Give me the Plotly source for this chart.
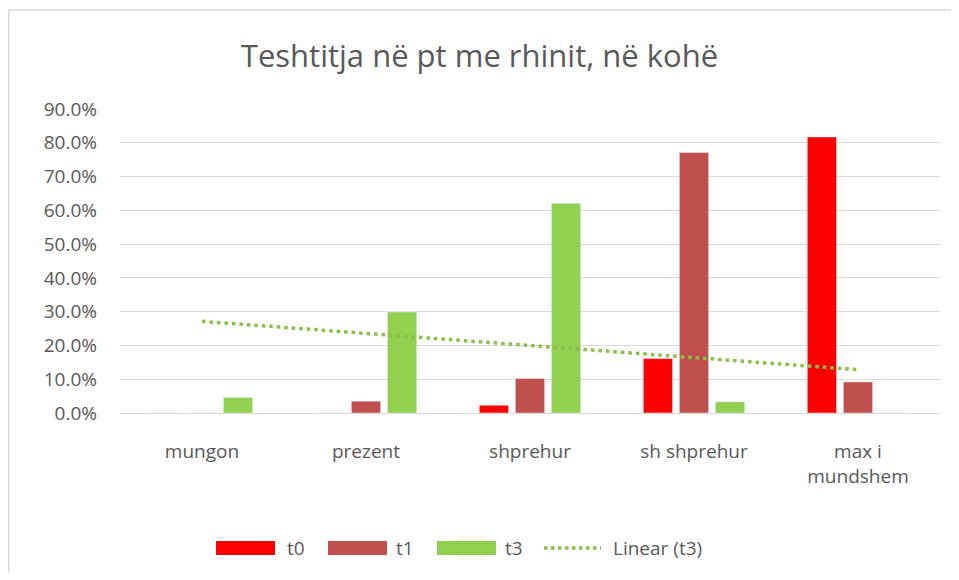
import numpy as np
import plotly.graph_objects as go

categories = ["mungon", "prezent", "shprehur", "sh shprehur", "max i<br>mundshem"]
t0 = [0.0, 0.0, 0.023, 0.161, 0.817]
t1 = [0.0, 0.035, 0.102, 0.771, 0.092]
t3 = [0.046, 0.299, 0.621, 0.033, 0.0]
y_ticks = [0.0, 0.1, 0.2, 0.3, 0.4, 0.5, 0.6, 0.7, 0.8, 0.9]
series_names = ["t0", "t1", "t3", "Linear (t3)"]
series_colors = ["#FF0000", "#C0504D", "#92D050", "#8CBF47"]

# linear trendline for t3
xi = np.arange(1, len(t3) + 1)
slope, intercept = np.polyfit(xi, t3, 1)
trend = (slope * xi + intercept).tolist()

FONT = "Open Sans"
GREY = "#595959"
BORDER = "#D9D9D9"

# page offset (body margin 8px) -> screen coordinates of plot area
OFF = 8
PX0, PX1, PY0, PY1 = 120, 940, 109, 413
W, H = 943, 564


def px(sx):
    return (sx - PX0) / (PX1 - PX0)


def py(sy):
    return (PY1 - sy) / (PY1 - PY0)


fig = go.Figure()
for name, vals, col in zip(series_names[:3], [t0, t1, t3], series_colors[:3]):
    fig.add_trace(go.Bar(x=categories, y=vals, name=name, marker_color=col,
                         showlegend=False))
fig.add_trace(go.Scatter(x=categories, y=trend, name=series_names[3], mode="lines",
                         showlegend=False,
                         line=dict(color=series_colors[3], width=3.5, dash="3.5px,4px")))

shapes = [
    dict(type="line", xref="paper", yref="paper", x0=px(OFF + 0.5), x1=px(OFF + W),
         y0=py(10), y1=py(10), line=dict(color=BORDER, width=1.5)),
    dict(type="line", xref="paper", yref="paper", x0=px(OFF + 0.75), x1=px(OFF + 0.75),
         y0=py(10), y1=py(OFF + H), line=dict(color=BORDER, width=1.5)),
]
annotations = []

# manual legend (wide swatches as in the reference)
leg_y = 548
rect_x = [216, 328, 437]
text_x = [285, 394, 503, 611]
for i in range(3):
    shapes.append(dict(type="rect", xref="paper", yref="paper",
                       x0=px(rect_x[i]), x1=px(rect_x[i] + 59),
                       y0=py(leg_y + 7), y1=py(leg_y - 7),
                       fillcolor=series_colors[i], line=dict(width=0)))
shapes.append(dict(type="line", xref="paper", yref="paper",
                   x0=px(544), x1=px(601), y0=py(leg_y), y1=py(leg_y),
                   line=dict(color=series_colors[3], width=3.5, dash="3.5px,3.5px")))
for i, name in enumerate(series_names):
    annotations.append(dict(text=name, xref="paper", yref="paper", x=px(text_x[i]),
                            y=py(leg_y), xanchor="left", yanchor="middle",
                            showarrow=False, font=dict(size=19, color=GREY, family=FONT)))

fig.update_layout(
    width=W, height=H,
    paper_bgcolor="white", plot_bgcolor="white",
    margin=dict(l=PX0 - OFF, r=OFF + W - PX1, t=PY0 - OFF, b=OFF + H - PY1, pad=0),
    barmode="group", bargap=0.34, bargroupgap=0.19,
    font=dict(family=FONT, color=GREY, size=19),
    title=dict(text="Teshtitja në pt me rhinit, në kohë", x=0.5, xanchor="center",
               xref="container", yref="container",
               y=1 - (56 - OFF) / H, yanchor="middle",
               font=dict(family=FONT, size=31, color=GREY)),
    showlegend=False,
    xaxis=dict(showline=False, ticks="", tickfont=dict(size=19, color=GREY),
               ticklabelstandoff=25),
    yaxis=dict(range=[0, 0.9], tickvals=y_ticks, tickformat=".1%",
               showgrid=True, gridcolor=BORDER, gridwidth=1.3,
               zeroline=True, zerolinecolor=BORDER, zerolinewidth=1.3,
               tickfont=dict(size=19, color=GREY), ticklabelstandoff=22),
    shapes=shapes,
    annotations=annotations,
)

fig.write_html("out.html")
